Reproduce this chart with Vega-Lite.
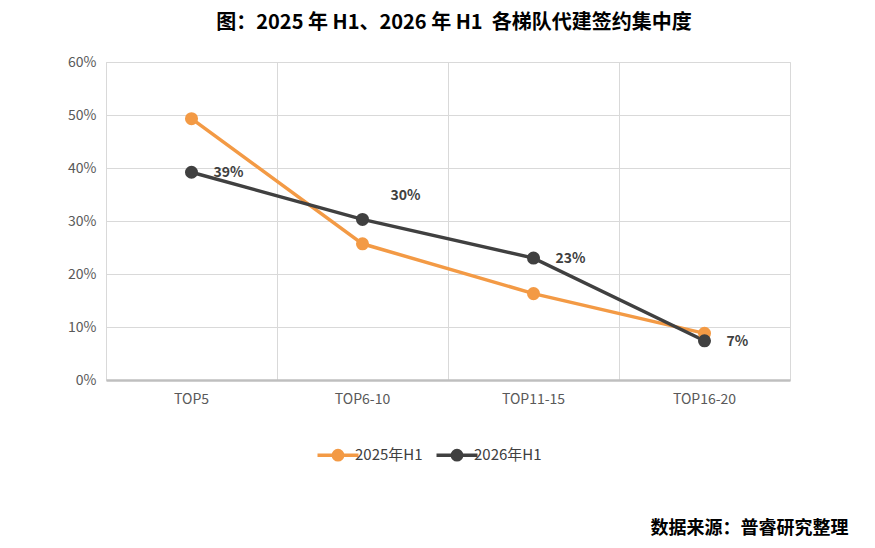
{
  "$schema": "https://vega.github.io/schema/vega-lite/v6.json",
  "width": 684,
  "height": 318,
  "autosize": "none",
  "padding": {"left": 106, "top": 62, "right": 85, "bottom": 168},
  "background": "white",
  "title": {
    "text": "图：2025 年 H1、2026 年 H1\u00a0 各梯队代建签约集中度",
    "font": "Noto Sans CJK SC",
    "fontSize": 20,
    "fontWeight": "bold",
    "color": "#000000",
    "anchor": "middle",
    "offset": 22,
    "dx": 6
  },
  "data": {
    "values": [
      {"tier": "TOP5", "period": "2025年H1", "share": 0.493},
      {"tier": "TOP6-10", "period": "2025年H1", "share": 0.257},
      {"tier": "TOP11-15", "period": "2025年H1", "share": 0.163},
      {"tier": "TOP16-20", "period": "2025年H1", "share": 0.088},
      {"tier": "TOP5", "period": "2026年H1", "share": 0.392},
      {"tier": "TOP6-10", "period": "2026年H1", "share": 0.303},
      {"tier": "TOP11-15", "period": "2026年H1", "share": 0.23},
      {"tier": "TOP16-20", "period": "2026年H1", "share": 0.074}
    ]
  },
  "config": {
    "font": "Noto Sans CJK SC",
    "view": {"stroke": "#d9d9d9", "strokeWidth": 1}
  },
  "encoding": {
    "x": {
      "field": "tier",
      "type": "ordinal",
      "sort": ["TOP5", "TOP6-10", "TOP11-15", "TOP16-20"],
      "scale": {"type": "band", "paddingInner": 0, "paddingOuter": 0},
      "axis": {
        "title": "数据来源：普睿研究整理",
        "titleFont": "Noto Sans CJK SC",
        "titleFontSize": 18,
        "titleFontWeight": "bold",
        "titleColor": "#000000",
        "titleAnchor": "end",
        "titleAlign": "right",
        "titleBaseline": "middle",
        "titleX": 742,
        "titleY": 148,
        "labelAngle": 0,
        "labelFontSize": 14,
        "labelColor": "#595959",
        "labelPadding": 12,
        "bandPosition": 0,
        "grid": true,
        "gridColor": "#d9d9d9",
        "ticks": false,
        "domainColor": "#bfbfbf",
        "domainWidth": 2.5
      }
    },
    "y": {
      "field": "share",
      "type": "quantitative",
      "scale": {"domain": [0, 0.6]},
      "axis": {
        "title": null,
        "values": [0, 0.1, 0.2, 0.3, 0.4, 0.5, 0.6],
        "format": ".0%",
        "labelFontSize": 14,
        "labelColor": "#595959",
        "labelPadding": 10,
        "domain": false,
        "ticks": false,
        "gridColor": "#d9d9d9"
      }
    },
    "color": {
      "field": "period",
      "type": "nominal",
      "scale": {"domain": ["2025年H1", "2026年H1"], "range": ["#F39A45", "#404040"]},
      "legend": {
        "title": null,
        "orient": "none",
        "direction": "horizontal",
        "legendX": 220,
        "legendY": 381,
        "labelFontSize": 15,
        "labelColor": "#404040",
        "columnPadding": 6,
        "labelOffset": 5,
        "symbolType": "M-2,0H-0.45M0.45,0H2M0.45,0A0.45,0.45,0,1,1,-0.45,0A0.45,0.45,0,1,1,0.45,0Z",
        "symbolSize": 420,
        "symbolStrokeWidth": 3.5,
        "encode": {
          "symbols": {
            "update": {
              "fill": {"scale": "color", "field": "value"},
              "stroke": {"scale": "color", "field": "value"}
            }
          }
        }
      }
    }
  },
  "layer": [
    {
      "mark": {"type": "line", "strokeWidth": 3.5}
    },
    {
      "mark": {"type": "point", "filled": true, "size": 170, "opacity": 1}
    },
    {
      "transform": [
        {"filter": "datum.period == '2026年H1' && datum.tier != 'TOP6-10'"}
      ],
      "mark": {
        "type": "text",
        "align": "left",
        "baseline": "middle",
        "dx": 22,
        "dy": 1,
        "fontSize": 14,
        "fontWeight": "bold",
        "color": "#404040"
      },
      "encoding": {
        "text": {"field": "share", "type": "quantitative", "format": ".0%"},
        "color": {"value": "#404040"}
      }
    },
    {
      "transform": [
        {"filter": "datum.period == '2026年H1' && datum.tier == 'TOP6-10'"}
      ],
      "mark": {
        "type": "text",
        "align": "left",
        "baseline": "middle",
        "dx": 28,
        "dy": -23,
        "fontSize": 14,
        "fontWeight": "bold",
        "color": "#404040"
      },
      "encoding": {
        "text": {"field": "share", "type": "quantitative", "format": ".0%"},
        "color": {"value": "#404040"}
      }
    }
  ]
}
